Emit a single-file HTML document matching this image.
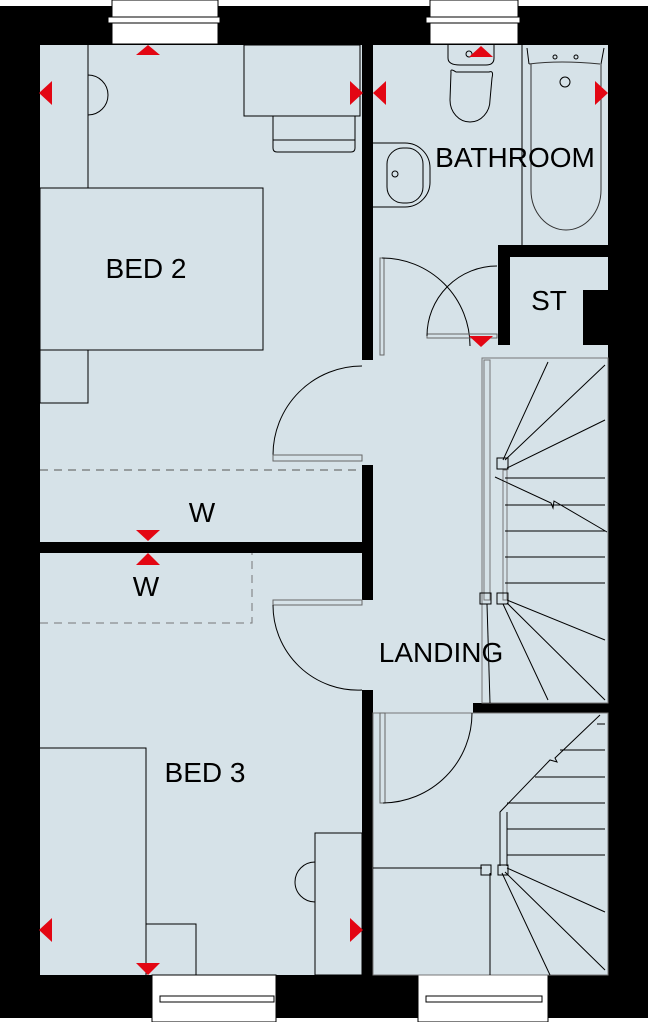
<!DOCTYPE html>
<html><head><style>
body{margin:0;background:#fff}
text{font-family:"Liberation Sans",sans-serif;font-size:28px;fill:#000}
</style></head><body>
<svg width="648" height="1022" viewBox="0 0 648 1022" xmlns="http://www.w3.org/2000/svg">
<rect x="0" y="6" width="648" height="1012" fill="#000"/>
<g fill="#d6e2e8">
<rect x="40" y="45" width="322" height="497"/>
<rect x="40" y="553" width="322" height="422"/>
<rect x="373" y="45" width="235" height="200"/>
<rect x="373" y="245" width="125" height="112"/>
<rect x="510" y="257" width="98" height="33"/>
<rect x="510" y="290" width="73" height="55"/>
<rect x="373" y="345" width="235" height="358"/>
<rect x="373" y="703" width="100" height="12"/>
<rect x="373" y="713" width="235" height="262"/>
<rect x="360" y="360" width="16" height="105"/>
<rect x="360" y="600" width="16" height="90"/>
</g>
<!-- windows -->
<g fill="#fff" stroke="#000" stroke-width="1">
<rect x="112" y="0" width="106" height="44"/><rect x="108" y="17" width="112" height="6"/>
<rect x="430" y="0" width="88" height="44"/><rect x="426" y="17" width="94" height="6"/>
<rect x="152" y="975" width="124" height="47"/><rect x="160" y="996" width="114" height="6"/>
<rect x="418" y="975" width="130" height="47"/><rect x="426" y="996" width="116" height="6"/>
</g>
<g fill="none" stroke="#000" stroke-width="1">
<!-- bed2 -->
<rect x="40" y="188" width="223" height="162"/>
<line x1="88" y1="45" x2="88" y2="188"/>
<rect x="40" y="350" width="48" height="53"/>
<path d="M88 75 A20 20 0 0 1 88 115"/>
<rect x="244" y="45" width="116" height="71"/>
<path d="M273 116 V148 Q273 152 277 152 H351 Q355 152 355 148 V116 M273 140 H355"/>
<path d="M273 455 A89 89 0 0 1 362 366"/>
<rect x="273" y="455" width="89" height="6" stroke="#666"/>
<line x1="40" y1="470" x2="362" y2="470" stroke="#555" stroke-dasharray="8 6"/>
<!-- bed3 -->
<path d="M40 623 H252 V553" stroke="#777" stroke-dasharray="8 6"/>
<rect x="273" y="600" width="89" height="5" stroke="#666"/>
<path d="M273 605 A85 85 0 0 0 362 690"/>
<path d="M40 748 H146 V975 M146 924 H196 V975"/>
<rect x="315" y="833" width="47" height="142"/>
<path d="M315 862 A20 20 0 0 0 315 902"/>
<!-- bathroom -->
<line x1="522" y1="45" x2="522" y2="245"/>
<path d="M529 64 Q560 60 600 64 M531 64 V190 A35 40 0 0 0 601 190 V64" stroke="#333"/>
<path d="M527 48 L529 64 M604 48 L601 64"/>
<circle cx="565" cy="82" r="5"/><circle cx="555" cy="57" r="2"/><circle cx="576" cy="57" r="2"/>
<path d="M448 45 V58 Q448 65 460 65 H486 Q494 65 494 58 V45"/>
<path d="M451 72 Q450 68 456 72 H489 Q494 70 492 78 L490 100 A20 22 0 0 1 450 100 Z"/>
<circle cx="469" cy="54" r="3"/>
<path d="M373 143 H405 A25 25 0 0 1 430 168 V181 A25 25 0 0 1 405 207 H373"/>
<rect x="387" y="148" width="36" height="55" rx="16"/>
<circle cx="395" cy="174" r="3"/>
<!-- doors near ST -->
<rect x="380" y="258" width="4" height="97" stroke="#666"/>
<path d="M382 258 A88 88 0 0 1 470 346"/>
<rect x="427" y="334" width="70" height="4" stroke="#666"/>
<path d="M427 336 A70 70 0 0 1 497 266"/>
<!-- upper stairs -->
<rect x="482" y="358" width="126" height="345" stroke="#777"/>
<rect x="484" y="360" width="6" height="240" stroke="#777"/>
<rect x="503" y="470" width="4" height="130" stroke="#777"/>
<rect x="497" y="458" width="11" height="11"/>
<rect x="480" y="593" width="11" height="11"/><rect x="497" y="593" width="11" height="11"/>
<path d="M503 460 L548 362 M505 460 L605 365 M507 468 L605 420 M505 478 H605 M505 505 H605 M505 531 H605 M505 557 H605 M505 583 H605 M507 600 L605 640 M507 603 L605 700 M503 604 L548 700"/>
<path d="M495 477 L551 503 L553 508 L554 501 L607 532"/>
<line x1="487" y1="604" x2="490" y2="703"/>
<!-- lower stairs -->
<rect x="373" y="713" width="235" height="262" stroke="#777"/>
<rect x="380" y="713" width="5" height="90" stroke="#666"/>
<path d="M383 803 A90 90 0 0 0 472 713"/>
<path d="M600 715 L555 758 L557 762 L550 760 L500 812 V866 M507 812 V866"/>
<path d="M597 724 H605 M560 750 H605 M535 777 H605 M507 803 H605 M507 829 H605 M507 855 H605"/>
<path d="M373 868 H482 M490 873 V975"/>
<rect x="481" y="865" width="10" height="10"/><rect x="498" y="865" width="10" height="10"/>
<path d="M507 868 L605 912 M505 872 L605 970 M502 873 L550 975"/>
</g>
<!-- red markers -->
<g fill="#e30613">
<polygon points="136,55 160,55 148,45"/>
<polygon points="39,93 52,81 52,105"/>
<polygon points="363,93 350,81 350,105"/>
<polygon points="469,57 493,57 481,46"/>
<polygon points="373,93 386,81 386,105"/>
<polygon points="608,93 595,81 595,105"/>
<polygon points="469,336 493,336 481,347"/>
<polygon points="136,530 160,530 148,541"/>
<polygon points="136,565 160,565 148,553"/>
<polygon points="39,930 52,918 52,942"/>
<polygon points="363,930 350,918 350,942"/>
<polygon points="136,963 160,963 148,975"/>
</g>
<text x="146" y="278" text-anchor="middle">BED 2</text>
<text x="515" y="167" text-anchor="middle">BATHROOM</text>
<text x="549" y="310" text-anchor="middle">ST</text>
<text x="202" y="522" text-anchor="middle">W</text>
<text x="146" y="596" text-anchor="middle">W</text>
<text x="441" y="662" text-anchor="middle">LANDING</text>
<text x="205" y="782" text-anchor="middle">BED 3</text>
</svg>
</body></html>
